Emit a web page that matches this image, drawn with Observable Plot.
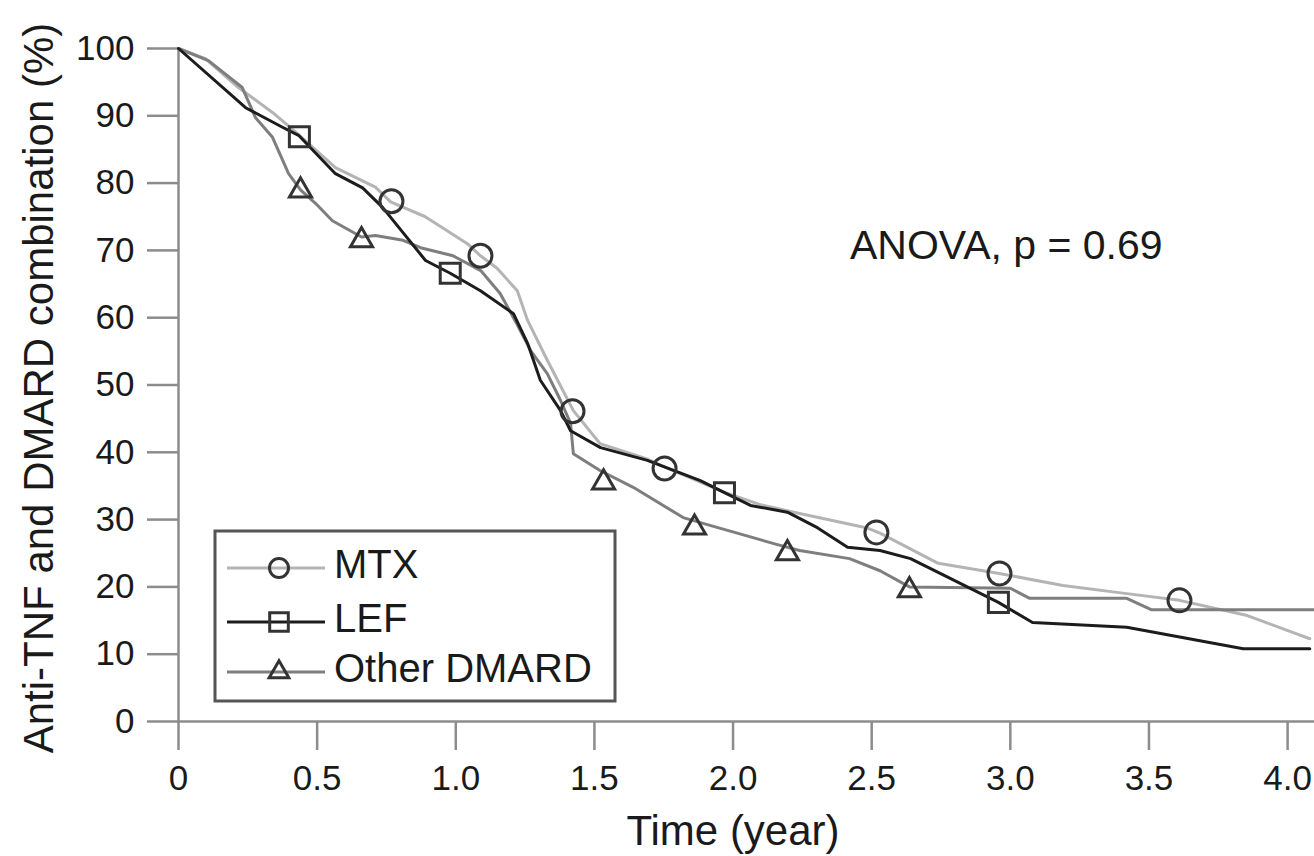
<!DOCTYPE html>
<html><head><meta charset="utf-8">
<script src="https://cdn.jsdelivr.net/npm/d3@7"></script>
<script src="https://cdn.jsdelivr.net/npm/@observablehq/plot@0.6"></script>
<style>
body{margin:0;background:#fff}
#chart{position:relative;width:1314px;height:856px}
</style>
</head><body><div id="chart"></div>
<script>
// ---- data ----
const seriesNames = ["MTX", "LEF", "Other DMARD"];

const mtxTime = [0,0.097,0.216,0.339,0.43,0.566,0.71,0.765,0.89,1.042,1.089,1.15,1.222,1.259,1.331,1.424,1.52,1.69,1.749,1.88,1.973,2.10,2.24,2.48,2.53,2.74,2.96,3.19,3.42,3.61,3.85,4.08];
const mtxPct  = [100,98.5,94.2,90.5,87.3,82.3,79.4,77.2,75.0,71.0,69.2,67.3,64.0,59.6,53.6,46.2,41.3,39.0,37.9,35.6,34.0,32.2,30.9,28.8,28.0,23.5,22.0,20.2,19.0,18.0,15.8,12.3];

const lefTime = [0,0.242,0.375,0.433,0.566,0.664,0.736,0.891,0.98,1.089,1.208,1.259,1.305,1.378,1.414,1.522,1.691,1.882,1.969,2.063,2.196,2.304,2.413,2.53,2.64,2.957,3.08,3.42,3.84,4.08];
const lefPct  = [100,91.2,88.3,87.1,81.4,79.3,76.4,68.5,66.6,64.0,60.6,56.2,50.7,46.2,43.2,40.7,38.8,35.8,34.0,32.1,31.1,28.8,25.9,25.4,24.2,17.7,14.7,14.0,10.8,10.8];

const othTime = [0,0.108,0.23,0.278,0.339,0.397,0.44,0.494,0.555,0.66,0.71,0.81,0.873,0.99,1.09,1.16,1.22,1.27,1.33,1.378,1.414,1.424,1.52,1.64,1.82,1.92,2.15,2.24,2.42,2.53,2.636,3.0,3.07,3.42,3.51,4.1];
const othPct  = [100,98.2,94.2,89.7,86.8,81.4,79.0,77.0,74.4,72.0,72.2,71.5,70.4,69.2,67.0,63.6,59.1,55.1,51.7,47.7,44.3,39.8,37.3,34.8,30.3,29.1,26.4,25.4,24.2,22.4,20.0,19.8,18.3,18.3,16.6,16.6];

// marker positions
const mtxMarkTime = [0.768,1.089,1.421,1.753,2.517,2.961,3.61];
const mtxMarkPct  = [77.3,69.2,46.1,37.6,28.1,22.0,18.0];
const lefMarkTime = [0.436,0.98,1.969,2.957];
const lefMarkPct  = [86.9,66.6,34.0,17.7];
const othMarkTime = [0.44,0.66,1.533,1.861,2.196,2.636];
const othMarkPct  = [78.9,71.5,35.5,28.8,25.0,19.5];

const xTicks = [0,0.5,1,1.5,2,2.5,3,3.5,4];
const xTickLabels = ["0","0.5","1.0","1.5","2.0","2.5","3.0","3.5","4.0"];
const yTicks = [0,10,20,30,40,50,60,70,80,90,100];
const yTickLabels = ["0","10","20","30","40","50","60","70","80","90","100"];
const xTitle = "Time (year)";
const yTitle = "Anti-TNF and DMARD combination (%)";
const annotation = "ANOVA, p = 0.69";

// ---- build ----
const rows = (t, p) => t.map((x, i) => ({t: x, p: p[i]}));
const colors = {"MTX": "#b4b4b4", "LEF": "#1c1c1c", "Other DMARD": "#7e7e7e"};
const symbols = {"MTX": "circle", "LEF": "square", "Other DMARD": "triangle"};
const markerStroke = "#333";
const axisGray = "#8c8c8c";
const font = "'Liberation Sans', Arial, Helvetica, sans-serif";

const plot = Plot.plot({
  width: 1314, height: 856,
  marginLeft: 178, marginRight: 0, marginTop: 48, marginBottom: 135,
  x: {domain: [0, 4.097]},
  y: {domain: [0, 100]},
  style: {fontFamily: font, fontSize: "35px", color: "#1a1a1a", background: "#fff", overflow: "visible"},
  marks: [
    Plot.axisX({ticks: xTicks, tickFormat: d => xTickLabels[xTicks.indexOf(d)], tickSize: 29, tickPadding: 15,
      stroke: axisGray, strokeWidth: 2.5, fill: "#1a1a1a", label: null}),
    Plot.axisY({ticks: yTicks, tickFormat: d => yTickLabels[yTicks.indexOf(d)], tickSize: 31, tickPadding: 13,
      stroke: axisGray, strokeWidth: 2.5, fill: "#1a1a1a", label: null}),
    Plot.ruleY([0], {stroke: axisGray, strokeWidth: 2.5}),
    Plot.ruleX([0], {stroke: axisGray, strokeWidth: 2.5}),
    Plot.line(rows(mtxTime, mtxPct), {x: "t", y: "p", stroke: colors["MTX"], strokeWidth: 3}),
    Plot.line(rows(othTime, othPct), {x: "t", y: "p", stroke: colors["Other DMARD"], strokeWidth: 3}),
    Plot.line(rows(lefTime, lefPct), {x: "t", y: "p", stroke: colors["LEF"], strokeWidth: 3}),
    Plot.dot(rows(mtxMarkTime, mtxMarkPct), {x: "t", y: "p", symbol: "circle", r: 11.5, stroke: markerStroke, strokeWidth: 3, fill: "none"}),
    Plot.dot(rows(lefMarkTime, lefMarkPct), {x: "t", y: "p", symbol: "square", r: 11.3, stroke: markerStroke, strokeWidth: 3, fill: "none"}),
    Plot.dot(rows(othMarkTime, othMarkPct), {x: "t", y: "p", symbol: "triangle", r: 8.2, stroke: markerStroke, strokeWidth: 3, fill: "none"})
  ]
});
document.getElementById("chart").appendChild(plot);

// ---- titles, annotation, legend ----
const svg = d3.select(plot);
svg.append("text").attr("x", 733).attr("y", 845).attr("text-anchor", "middle")
  .attr("font-size", 42).attr("fill", "#1a1a1a").text(xTitle);
svg.append("text").attr("transform", "translate(53,388) rotate(-90)").attr("text-anchor", "middle")
  .attr("font-size", 42).attr("fill", "#1a1a1a").text(yTitle);
svg.append("text").attr("x", 850).attr("y", 259).attr("text-anchor", "start")
  .attr("font-size", 41).attr("fill", "#1a1a1a").text(annotation);

const lg = svg.append("g");
lg.append("rect").attr("x", 215).attr("y", 531).attr("width", 400).attr("height", 170)
  .attr("fill", "none").attr("stroke", "#555").attr("stroke-width", 3);
const symType = {"circle": d3.symbolCircle, "square": d3.symbolSquare, "triangle": d3.symbolTriangle};
const legendR = {"MTX": 9.5, "LEF": 10.5, "Other DMARD": 7.3};
seriesNames.forEach((name, i) => {
  const cy = [568, 622, 672][i];
  lg.append("line").attr("x1", 227).attr("x2", 325).attr("y1", cy).attr("y2", cy)
    .attr("stroke", colors[name]).attr("stroke-width", 3);
  lg.append("path").attr("transform", `translate(279,${cy})`)
    .attr("d", d3.symbol(symType[symbols[name]], Math.PI * legendR[name] ** 2)())
    .attr("fill", "none").attr("stroke", markerStroke).attr("stroke-width", 3);
  lg.append("text").attr("x", 334).attr("y", cy + 10).attr("text-anchor", "start")
    .attr("font-size", 40).attr("fill", "#1a1a1a").text(name);
});
</script>
</body></html>
